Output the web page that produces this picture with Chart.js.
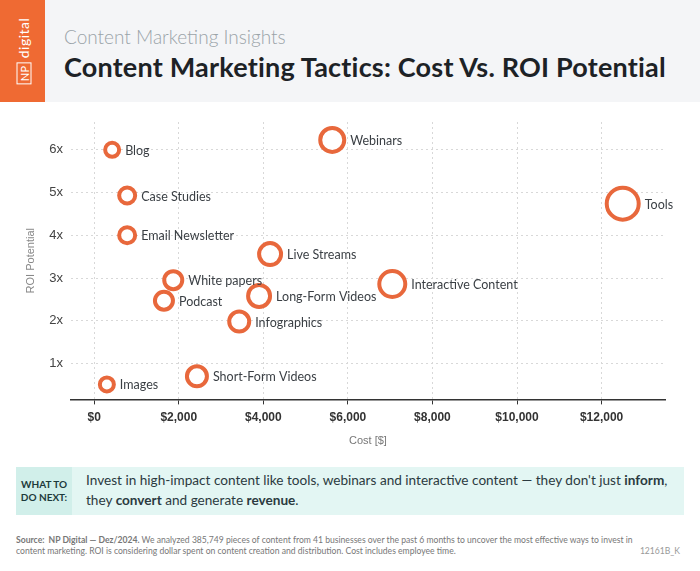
<!DOCTYPE html>
<html>
<head>
<title>Content Marketing Tactics</title>
<script src="https://cdn.jsdelivr.net/npm/chart.js"></script>
<style>
  body { margin: 0; width: 700px; height: 571px; background: #fff; font-family: Lato, "Open Sans", sans-serif; position: relative; overflow: hidden; }
  #header { position: absolute; left: 0; top: 0; width: 700px; height: 102px; background: #f4f5f7; }
  #logo { position: absolute; left: 0; top: 0; width: 45px; height: 102px; background: #ef6a33; color: #fff; }
  #logo span { position: absolute; left: 23px; top: 51px; transform: translate(-50%,-50%) rotate(-90deg); font-size: 14px; white-space: nowrap; letter-spacing: 0.5px; }
  #logo b { border: 1.5px solid #fff; padding: 0 2px; font-weight: normal; font-size: 11px; }
  #sub { position: absolute; left: 64px; top: 25px; font-size: 19px; color: #9aa3a8; font-weight: 300; }
  #title { position: absolute; left: 64px; top: 50px; font-size: 27px; color: #1d2226; font-weight: bold; letter-spacing: 0.2px; }
  #wrap { position: absolute; left: 0; top: 102px; width: 700px; height: 350px; }
  #callout { position: absolute; left: 16px; top: 467px; width: 668px; height: 48px; background: #e3f6f3; }
  #callout .lab { position: absolute; left: 0; top: 0; width: 56px; height: 48px; background: #d1efea; font-size: 10px; font-weight: bold; color: #1d3a3a; display: flex; align-items: center; justify-content: center; text-align: center; line-height: 13px; }
  #callout .txt { position: absolute; left: 70px; top: 3px; font-size: 13.6px; color: #2b3a40; line-height: 20px; white-space: nowrap; }
  #foot { position: absolute; left: 16px; top: 535px; font-size: 8.6px; color: #777; line-height: 11px; width: 620px; }
  #code { position: absolute; right: 20px; top: 546px; font-size: 8.6px; color: #999; }
</style>
</head>
<body>
<div id="header"><div id="logo"><span><b>NP</b> digital</span></div>
  <div id="sub">Content Marketing Insights</div>
  <div id="title">Content Marketing Tactics: Cost Vs. ROI Potential</div></div>
<div id="wrap"><canvas id="chart"></canvas></div>
<div id="callout"><div class="lab">WHAT TO<br>DO NEXT:</div>
  <div class="txt">Invest in high-impact content like tools, webinars and interactive content — they don't just <b>inform</b>,<br>they <b>convert</b> and generate <b>revenue</b>.</div></div>
<div id="foot"><b>Source:&nbsp; NP Digital — Dez/2024.</b> We analyzed 385,749 pieces of content from 41 businesses over the past 6 months to uncover the most effective ways to invest in content marketing. ROI is considering dollar spent on content creation and distribution. Cost includes employee time.</div>
<div id="code">12161B_K</div>
<script>
const tactics = ['Blog','Case Studies','Email Newsletter','Live Streams','White papers','Podcast','Long-Form Videos','Infographics','Short-Form Videos','Images','Webinars','Interactive Content','Tools'];
const cost = [425, 780, 780, 4160, 1870, 1650, 3900, 3430, 2430, 300, 5630, 7050, 12500];
const roi = [6.0, 4.93, 4.0, 3.56, 2.95, 2.47, 2.58, 1.98, 0.70, 0.51, 6.23, 2.86, 4.74];
const size = [7, 8, 8, 11, 9, 9, 11, 10, 10, 7, 12, 13, 16];

const labelPlugin = {
  id: 'pointLabels',
  afterDatasetsDraw(chart) {
    const ctx = chart.ctx;
    const meta = chart.getDatasetMeta(0);
    ctx.save();
    ctx.font = '12.5px Lato, sans-serif';
    ctx.fillStyle = '#3a3f44';
    ctx.textBaseline = 'middle';
    meta.data.forEach((el, i) => {
      ctx.fillText(tactics[i], el.x + size[i] + 6, el.y + 1);
    });
    ctx.restore();
  }
};

new Chart(document.getElementById('chart'), {
  type: 'bubble',
  data: {
    datasets: [{
      data: cost.map((c, i) => ({ x: c, y: roi[i], r: size[i] })),
      backgroundColor: '#ffffff',
      borderColor: '#e8683c',
      borderWidth: 4
    }]
  },
  options: {
    responsive: true,
    maintainAspectRatio: false,
    animation: false,
    layout: { padding: { left: 20, right: 35, top: 8, bottom: 0 } },
    plugins: { legend: { display: false }, tooltip: { enabled: false } },
    scales: {
      x: {
        min: -550, max: 13500,
        afterBuildTicks: s => { s.ticks = [0,2000,4000,6000,8000,10000,12000].map(v => ({ value: v })); },
        ticks: { callback: v => '$' + v.toLocaleString('en-US'), color: '#333', font: { size: 12, weight: 'bold' }, padding: 6 },
        grid: { color: '#d8d8d8', tickColor: '#333', tickLength: 5, drawTicks: true },
        border: { display: true, color: '#333', width: 1.5, dash: [2, 3] },
        title: { display: true, text: 'Cost [$]', color: '#777', font: { size: 11 } }
      },
      y: {
        min: 0.16, max: 6.65,
        afterBuildTicks: s => { s.ticks = [1,2,3,4,5,6].map(v => ({ value: v })); },
        ticks: { callback: v => v + 'x', color: '#444', font: { size: 13 }, padding: 8 },
        grid: { color: '#d8d8d8', drawTicks: false },
        border: { display: false, dash: [2, 3] },
        title: { display: true, text: 'ROI Potential', color: '#888', font: { size: 11 } }
      }
    }
  },
  plugins: [labelPlugin]
});
</script>
</body>
</html>
